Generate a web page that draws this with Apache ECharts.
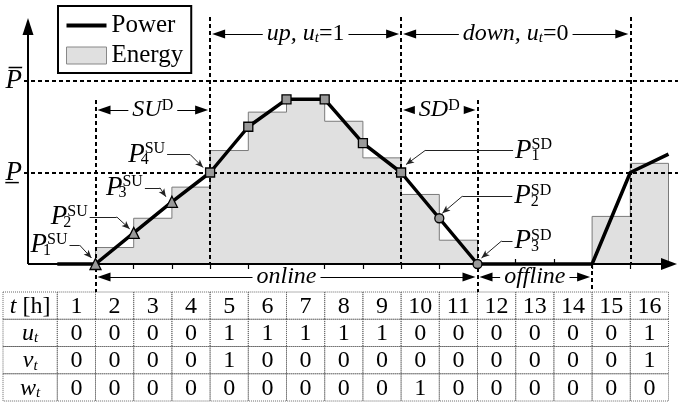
<!DOCTYPE html>
<html>
<head>
<meta charset="utf-8">
<script src="https://cdn.jsdelivr.net/npm/echarts@6/dist/echarts.min.js"></script>
<style>
  html, body { margin: 0; padding: 0; background: #fff; }
  #chart { width: 678px; height: 403px; }
</style>
</head>
<body>
<div id="chart"></div>
<script>
// hour boundaries on the time axis
const bounds = [0, 1, 2, 3, 4, 5, 6, 7, 8, 9, 10, 11, 12, 13, 14, 15, 16]
// power at each boundary (Pmax = 100)
const power = [0, 0, 17, 34, 50, 75, 90, 90, 66, 50, 25, 0, 0, 0, 0, 50, 60]
const powerSymbols = ['none', 'triangle', 'triangle', 'triangle', 'rect', 'rect', 'rect', 'rect', 'rect', 'rect',
  'circle', 'circle', 'none', 'none', 'none', 'none', 'none']
// energy of each hour 1..16
const energy = [0, 9, 25, 42, 62, 83, 90, 78, 58, 38, 13, 0, 0, 0, 26, 55]
const hours = [1, 2, 3, 4, 5, 6, 7, 8, 9, 10, 11, 12, 13, 14, 15, 16]
const uRow = [0, 0, 0, 0, 1, 1, 1, 1, 1, 0, 0, 0, 0, 0, 0, 1]
const vRow = [0, 0, 0, 0, 1, 0, 0, 0, 0, 0, 0, 0, 0, 0, 0, 1]
const wRow = [0, 0, 0, 0, 0, 0, 0, 0, 0, 1, 0, 0, 0, 0, 0, 0]
const rowHeads = ['{i|t} [h]', '{i|u}{s|t}', '{i|v}{s|t}', '{i|w}{s|t}']
const pMin = 50
const pMax = 100
// phase boundaries
const suStart = 1, upStart = 4, sdStart = 9, offStart = 11, offEnd = 14, downEnd = 15

// ---- layout (pixels) ----
const X0 = 57.3, UNIT = 38.2, Y0 = 264, YU = 1.83
const px2x = px => (px - X0) / UNIT
const py2y = py => (Y0 - py) / YU
const xMin = px2x(0), xMax = px2x(678)
const SERIF = 'Liberation Serif'

const rich = {
  i: { fontFamily: SERIF, fontStyle: 'italic', fontSize: 24, color: '#000' },
  r: { fontFamily: SERIF, fontSize: 24, color: '#000' },
  s: { fontFamily: SERIF, fontStyle: 'italic', fontSize: 15, color: '#000', verticalAlign: 'bottom' },
  sup: { fontFamily: SERIF, fontSize: 16, color: '#000', verticalAlign: 'top' },
  P: { fontFamily: SERIF, fontStyle: 'italic', fontSize: 27, color: '#000' },
  n: { fontFamily: SERIF, fontSize: 16, color: '#000', verticalAlign: 'bottom', width: 0, align: 'left' }
}

const dash = { type: [4, 3], width: 2, color: '#000' }
const solid = { type: 'solid', width: 1, color: '#000' }

function vDash(x, topPy, botPy) {
  return [{ coord: [x, py2y(topPy)], lineStyle: dash }, { coord: [x, py2y(botPy)] }]
}
function hDash(y, text) {
  return [
    { coord: [px2x(24), y], lineStyle: dash,
      label: { show: true, position: 'start', distance: 2, formatter: () => text, rich } },
    { coord: [xMax - 0.001, y] }
  ]
}
function span(x1, x2, py, text) {
  const len = 13
  const off = (len / 2 + 2) / UNIT
  return [
    { coord: [x1 + off, py2y(py)], symbol: 'triangle', symbolSize: [9, len], lineStyle: solid,
      label: { show: true, position: 'insideMiddle', formatter: () => text, rich,
        backgroundColor: '#fff', padding: [0, 4] } },
    { coord: [x2 - off, py2y(py)], symbol: 'triangle', symbolSize: [9, len] }
  ]
}

const leaders = [
  { at: 1, text: '{P|P}{n|1}{sup|SU}', start: [-26, -19], bend: [-16, -19], tip: [-4, -6] },
  { at: 2, text: '{P|P}{n|2}{sup|SU}', start: [-44, -16], bend: [-17, -16], tip: [-4, -4] },
  { at: 3, text: '{P|P}{n|3}{sup|SU}', start: [-27, -14], bend: [-12, -14], tip: [-6, -5] },
  { at: 4, text: '{P|P}{n|4}{sup|SU}', start: [-43, -18], bend: [-20, -18], tip: [-7, -5] },
  { at: 9, text: '{P|P}{n|1}{sup|SD}', start: [112, -22], bend: [24, -22], tip: [5, -8] },
  { at: 10, text: '{P|P}{n|2}{sup|SD}', start: [73, -22], bend: [23, -22], tip: [3, -5] },
  { at: 11, text: '{P|P}{n|3}{sup|SD}', start: [35, -23], bend: [24, -23], tip: [4, -6] }
]
const leaderStyle = { type: 'solid', width: 1, color: '#222' }
const leaderLines = []
leaders.forEach(l => {
  const c = d => [bounds[l.at] + d[0] / UNIT, power[l.at] - d[1] / YU]
  leaderLines.push([
    { coord: c(l.start), lineStyle: leaderStyle,
      label: { show: true, position: 'start', distance: 2, formatter: () => l.text, rich } },
    { coord: c(l.bend) }
  ])
  leaderLines.push([
    { coord: c(l.bend), lineStyle: leaderStyle },
    { coord: c(l.tip), symbol: 'arrow', symbolSize: [5, 8] }
  ])
})

const annotLines = [
  // axes
  [{ coord: [px2x(28), 0], lineStyle: { type: 'solid', width: 2, color: '#000' } },
   { coord: [px2x(669), 0], symbol: 'triangle', symbolSize: [12, 16] }],
  [{ coord: [px2x(28), 0], lineStyle: { type: 'solid', width: 2, color: '#000' } },
   { coord: [px2x(28), py2y(26.5)], symbol: 'triangle', symbolSize: [11, 17] }],
  hDash(pMax, '{P|P\u0305}'),
  hDash(pMin, '{P|P\u0332}'),
  vDash(suStart, 100, 292),
  vDash(upStart, 17, 264),
  vDash(sdStart, 17, 264),
  vDash(offStart, 100, 292),
  vDash(offEnd, 264, 292),
  vDash(downEnd, 17, 264),
  span(upStart, sdStart, 34, '{i|up, u}{s|t}{r|=1}'),
  span(sdStart, downEnd, 34, '{i|down, u}{s|t}{r|=0}'),
  span(suStart, upStart, 110, '{i|SU}{sup|D}'),
  span(sdStart, offStart, 110, '{i|SD}{sup|D}'),
  span(suStart, offStart, 277, '{i|online}'),
  span(offStart, offEnd, 277, '{i|offline}'),
  ...leaderLines
]

// table cells
const tableRows = [hours, uRow, vRow, wRow]
const cells = []
rowHeads.forEach((h, r) => {
  cells.push({ c: 0, r, text: h })
  tableRows[r].forEach((v, k) => cells.push({ c: k + 1, r, text: '{r|' + v + '}' }))
})
const tableLeft = px2x(3)

const chart = echarts.init(document.getElementById('chart'))
chart.setOption({
  animation: false,
  backgroundColor: '#fff',
  legend: {
    left: 58,
    top: 6,
    orient: 'vertical',
    selectedMode: false,
    itemWidth: 40,
    itemHeight: 17,
    itemGap: 5,
    padding: [7, 8, 5, 8],
    borderColor: '#000',
    borderWidth: 2,
    backgroundColor: '#fff',
    textStyle: { fontFamily: SERIF, fontSize: 25, color: '#000' },
    data: [
      { name: 'Power', icon: 'path://M0,0H40V4H0Z', itemStyle: { color: '#000', borderWidth: 0 } },
      { name: 'Energy', icon: 'rect', itemStyle: { color: '#e0e0e0', borderColor: '#888', borderWidth: 1 } }
    ]
  },
  grid: [
    { left: 0, right: 0, top: 10, bottom: 111 },
    { left: 0, right: 0, top: 292, bottom: 2 }
  ],
  xAxis: [
    { type: 'value', gridIndex: 0, min: xMin, max: xMax,
      axisLine: { show: false, onZero: true },
      axisTick: { show: true, customValues: bounds.slice(1, 16), length: 5, lineStyle: { color: '#000', width: 1.2 } },
      axisLabel: { show: false }, splitLine: { show: false } },
    { type: 'value', gridIndex: 0, min: xMin, max: xMax, position: 'bottom', offset: -28,
      axisLine: { show: false, onZero: false },
      axisTick: { show: true, inside: true, customValues: bounds.slice(1, 16), length: 5, lineStyle: { color: '#000', width: 1.2 } },
      axisLabel: { show: false }, splitLine: { show: false } },
    { type: 'value', gridIndex: 1, min: xMin, max: xMax, show: false }
  ],
  yAxis: [
    { type: 'value', gridIndex: 0, min: py2y(292), max: py2y(10), show: false },
    { type: 'category', gridIndex: 1, data: ['t', 'u', 'v', 'w'], inverse: true, show: false }
  ],
  series: [
    {
      name: 'Energy',
      type: 'line',
      step: 'start',
      xAxisIndex: 0, yAxisIndex: 0,
      data: [[bounds[0], 0], ...energy.map((e, k) => [bounds[k + 1], e]), [bounds[16], 0]],
      symbol: 'none',
      lineStyle: { color: '#7a7a7a', width: 1 },
      areaStyle: { color: '#e0e0e0', opacity: 1 },
      itemStyle: { color: '#e0e0e0' },
      silent: true,
      z: 2
    },
    {
      name: 'annot',
      type: 'line',
      xAxisIndex: 0, yAxisIndex: 0,
      data: [],
      silent: true,
      z: 3,
      markLine: {
        silent: true,
        symbol: 'none',
        animation: false,
        label: { show: false },
        emphasis: { disabled: true },
        data: annotLines
      }
    },
    {
      name: 'Power',
      type: 'line',
      xAxisIndex: 0, yAxisIndex: 0,
      data: bounds.map((t, i) => ({
        value: [t, power[i]],
        symbol: powerSymbols[i],
        symbolSize: powerSymbols[i] === 'triangle' ? 11 : 9
      })),
      symbol: 'none',
      lineStyle: { color: '#000', width: 3.5 },
      itemStyle: { color: '#999', borderColor: '#000', borderWidth: 1.3 },
      silent: true,
      z: 5
    },
    {
      name: 'table',
      type: 'custom',
      xAxisIndex: 2, yAxisIndex: 1,
      silent: true,
      data: cells.map(d => [d.c, d.r]),
      renderItem(params, api) {
        const cell = cells[params.dataIndex]
        const x1 = cell.c === 0 ? tableLeft : bounds[cell.c - 1]
        const x2 = cell.c === 0 ? bounds[0] : bounds[cell.c]
        const pa = api.coord([x1, cell.r])
        const pb = api.coord([x2, cell.r])
        const h = api.size([0, 1])[1]
        return {
          type: 'group',
          children: [
            { type: 'rect', shape: { x: pa[0], y: pa[1] - h / 2, width: pb[0] - pa[0], height: h },
              style: { fill: 'none', stroke: '#666', lineWidth: 1, lineDash: [1, 1] } },
            { type: 'text',
              style: { x: (pa[0] + pb[0]) / 2, y: pa[1] + 1, text: cell.text, align: 'center', verticalAlign: 'middle',
                fontFamily: SERIF, fontSize: 24, fill: '#000', rich } }
          ]
        }
      }
    }
  ]
})
</script>
</body>
</html>
